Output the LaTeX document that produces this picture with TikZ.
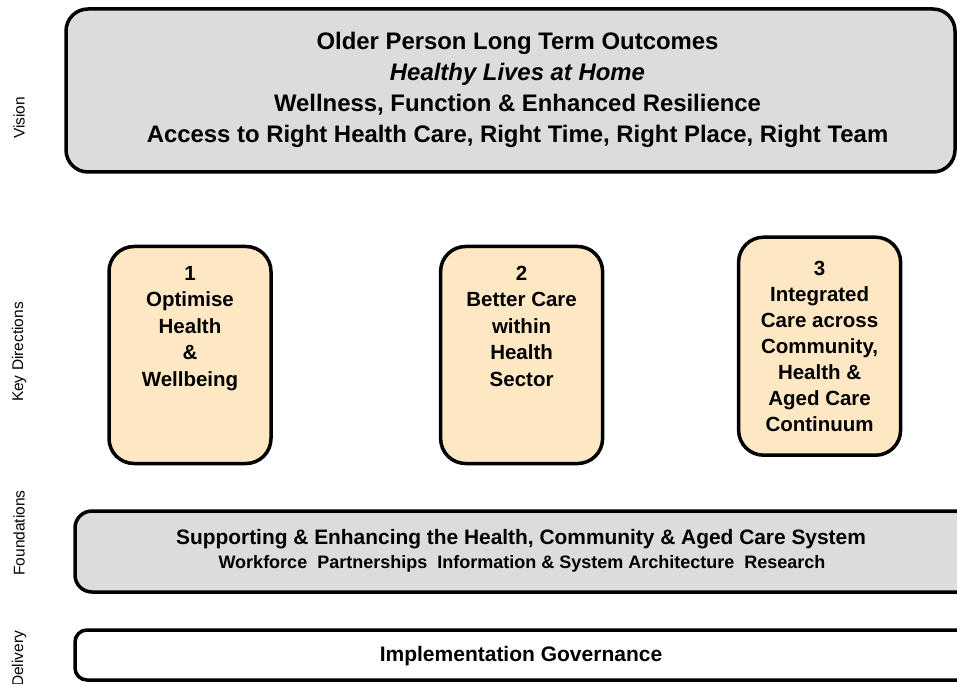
\documentclass[tikz,border=0pt]{standalone}
\usepackage{fontspec}
\setmainfont{Liberation Sans}
\definecolor{boxgray}{RGB}{220,220,220}
\definecolor{beige}{RGB}{254,232,196}
\begin{document}
\begin{tikzpicture}[x=1pt,y=-1pt,
  panel/.style={draw=black, line width=3.5pt, rectangle, inner sep=0pt},
  graypanel/.style={panel, fill=boxgray},
  keybox/.style={panel, fill=beige, rounded corners=25pt, minimum width=162pt, minimum height=217pt},
  sidelabel/.style={rotate=90, inner sep=0pt, font=\fontsize{15.5}{18}\selectfont},
  toptext/.style={align=center, inner sep=0pt, anchor=base, font=\fontsize{23.9}{31}\selectfont\bfseries},
  keytext/.style={align=center, inner sep=0pt, anchor=base, font=\fontsize{20.5}{26.6}\selectfont\bfseries}
]
\useasboundingbox (0,0) rectangle (957,684);
\fill[white] (0,0) rectangle (957,684);

% side labels
\node[sidelabel] (lvision) at (19,118) {Vision};
\node[sidelabel] (lkey) at (19,352) {Key Directions};
\node[sidelabel] (lfound) at (19,533) {Foundations};
\node[sidelabel] (ldeliv) at (19,659) {Delivery};

% vision
\node[graypanel, rounded corners=22pt, minimum width=889pt, minimum height=163pt] (vision) at (510.5,90.5) {};
\node[toptext] (visiontext) at (517.5,142.5) {Older Person Long Term Outcomes\\ \textit{Healthy Lives at Home}\\ Wellness, Function \& Enhanced Resilience\\ Access to Right Health Care, Right Time, Right Place, Right Team};

% key directions
\node[keybox] (k1) at (190,355) {};
\node[keytext] (k1t) at (190,386.5) {1\\Optimise\\Health\\\&\\Wellbeing};
\node[keybox] (k2) at (521.6,355) {};
\node[keybox, minimum height=218pt] (k3) at (819.6,346.2) {};
\node[keytext] (k2t) at (521.6,386.5) {2\\Better Care\\within\\Health\\Sector};
\node[keytext, font=\fontsize{20.5}{26.1}\selectfont\bfseries] (k3t) at (819.6,431.7) {3\\Integrated\\Care across\\Community,\\Health \&\\Aged Care\\Continuum};

% foundations
\node[graypanel, rounded corners=17pt, minimum width=900pt, minimum height=81pt] (found) at (525,551.5) {};
\node[inner sep=0pt, anchor=base, font=\fontsize{20.9}{24}\selectfont\bfseries] (foundt1) at (521,544.3) {Supporting \& Enhancing the Health, Community \& Aged Care System};
\node[inner sep=0pt, anchor=base, font=\fontsize{18}{24}\selectfont\bfseries] (foundt2) at (522,568.3) {Workforce\ \ Partnerships\ \ Information \& System Architecture\ \ Research};

% delivery
\node[panel, fill=white, rounded corners=12pt, minimum width=900pt, minimum height=50pt] (deliv) at (525,655) {};
\node[inner sep=0pt, anchor=base, font=\fontsize{21}{24}\selectfont\bfseries] (delivt) at (521,661.7) {Implementation Governance};
\end{tikzpicture}
\end{document}
